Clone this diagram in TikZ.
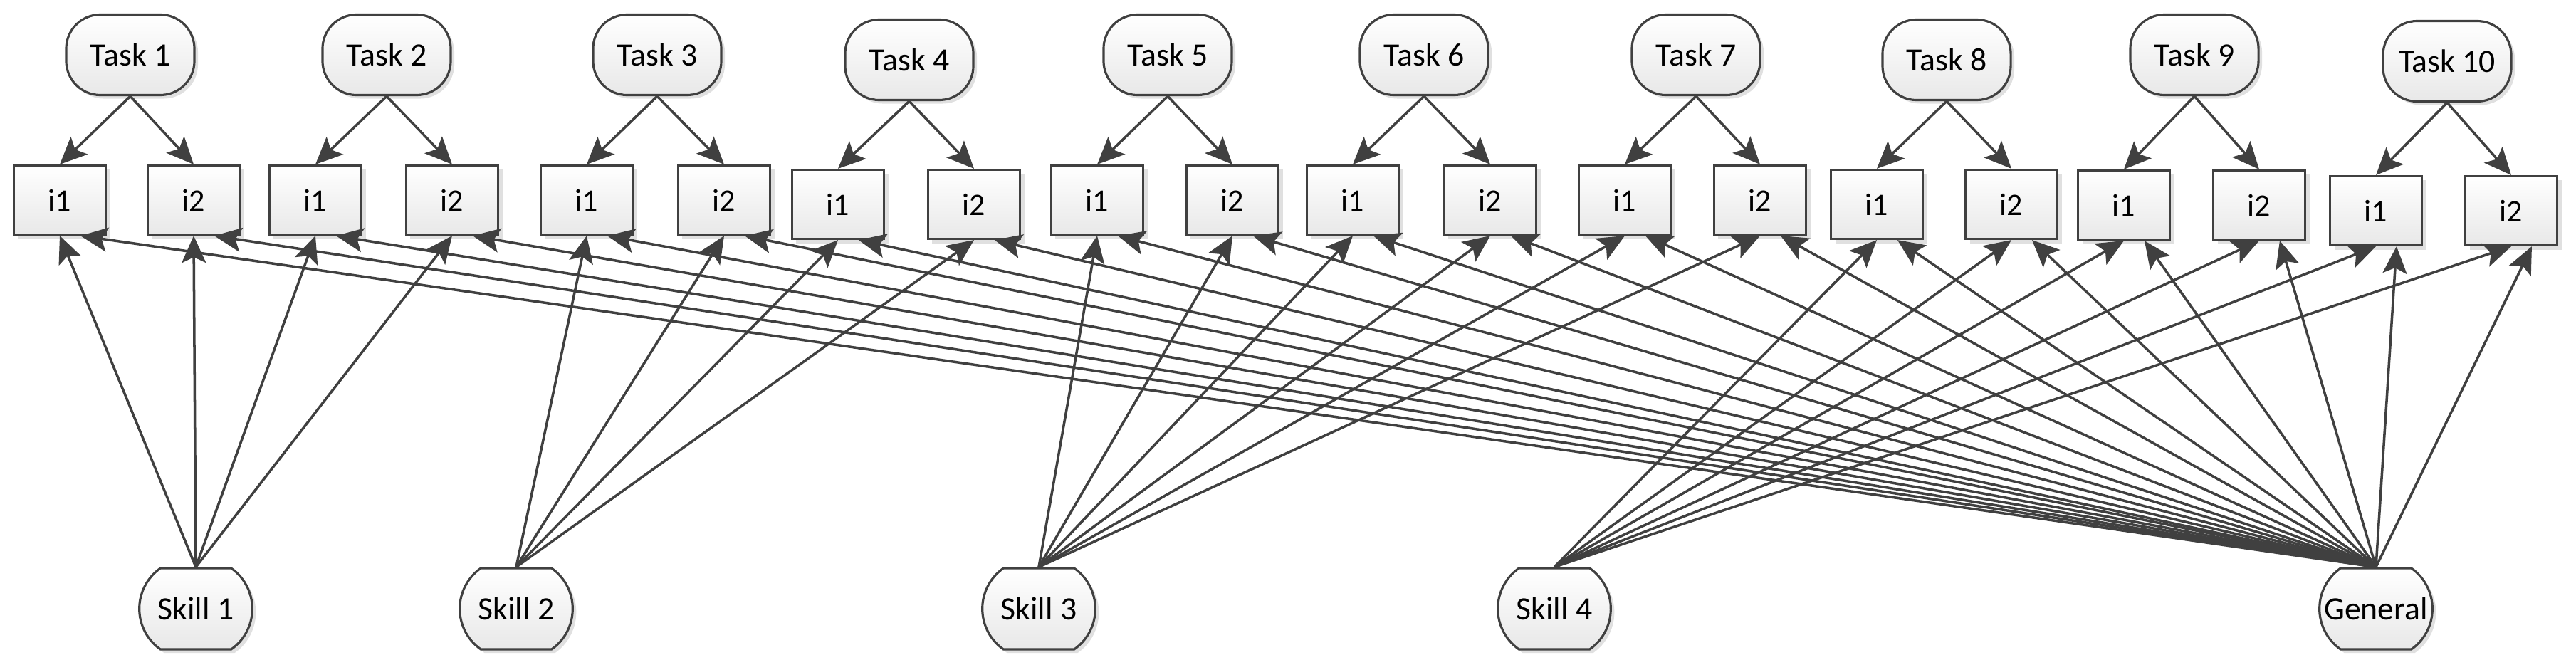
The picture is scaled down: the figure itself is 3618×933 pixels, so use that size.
\documentclass[tikz,border=0pt]{standalone}
\usepackage{fontspec}
\setmainfont{Carlito}
\usepackage{tikz}
\usetikzlibrary{shapes.misc, arrows.meta, shadows}

\definecolor{edgegray}{HTML}{404040}
\tikzstyle{task} = [rectangle, rounded corners=0.48cm, minimum width=1.8cm, minimum height=1.13cm, text centered, draw=edgegray, line width=0.9pt, top color=white, bottom color=black!9, drop shadow={shadow xshift=0.05cm, shadow yshift=-0.05cm, fill=black!30, opacity=0.4}, font=\fontsize{13}{15}\selectfont]
\tikzstyle{itembox} = [rectangle, minimum width=1.29cm, minimum height=0.97cm, text centered, draw=edgegray, line width=0.9pt, top color=white, bottom color=black!9, drop shadow={shadow xshift=0.06cm, shadow yshift=-0.06cm, fill=black!30, opacity=0.4}, font=\fontsize{12.5}{15}\selectfont]
\tikzstyle{skill} = [rounded rectangle, rounded rectangle arc length=110, minimum width=1.82cm, minimum height=1.14cm, text centered, draw=edgegray, line width=0.9pt, top color=white, bottom color=black!9, drop shadow={shadow xshift=0.05cm, shadow yshift=-0.05cm, fill=black!30, opacity=0.4}, font=\fontsize{13}{15}\selectfont]
\tikzstyle{arrow} = [line width=1pt, color=edgegray, -{Stealth[length=0.38cm, width=0.34cm, inset=0.08cm]}]

\begin{document}
\begin{tikzpicture}[x=0.01cm, y=-0.01cm]

  \useasboundingbox (0,0) rectangle (3618,933);

  % tasks
  \node (task1) [task] at (183,77) {Task 1};
  \node (task2) [task] at (543,77) {Task 2};
  \node (task3) [task] at (923,77) {Task 3};
  \node (task4) [task] at (1277,84) {Task 4};
  \node (task5) [task] at (1640,77) {Task 5};
  \node (task6) [task] at (2000,77) {Task 6};
  \node (task7) [task] at (2382,77) {Task 7};
  \node (task8) [task] at (2734,84) {Task 8};
  \node (task9) [task] at (3082,77) {Task 9};
  \node (task10) [task] at (3437,86) {Task 10};

  % items
  \node (t1i1) [itembox] at (84,281) {i1};
  \node (t1i2) [itembox] at (272,281) {i2};
  \node (t2i1) [itembox] at (443,281) {i1};
  \node (t2i2) [itembox] at (635,281) {i2};
  \node (t3i1) [itembox] at (824,281) {i1};
  \node (t3i2) [itembox] at (1017,281) {i2};
  \node (t4i1) [itembox] at (1177,287) {i1};
  \node (t4i2) [itembox] at (1368,287) {i2};
  \node (t5i1) [itembox] at (1541,281) {i1};
  \node (t5i2) [itembox] at (1731,281) {i2};
  \node (t6i1) [itembox] at (1900,281) {i1};
  \node (t6i2) [itembox] at (2093,281) {i2};
  \node (t7i1) [itembox] at (2282,281) {i1};
  \node (t7i2) [itembox] at (2472,281) {i2};
  \node (t8i1) [itembox] at (2636,287) {i1};
  \node (t8i2) [itembox] at (2825,287) {i2};
  \node (t9i1) [itembox] at (2983,288) {i1};
  \node (t9i2) [itembox] at (3173,288) {i2};
  \node (t10i1) [itembox] at (3337,296) {i1};
  \node (t10i2) [itembox] at (3527,296) {i2};

  % skills
  \node (skill1) [skill] at (275,855) {Skill 1};
  \node (skill2) [skill] at (725,855) {Skill 2};
  \node (skill3) [skill] at (1459,855) {Skill 3};
  \node (skill4) [skill] at (2183,855) {Skill 4};
  \node (general) [skill] at (3337,855) {General};

  \path [arrow] (task1.south) edge (t1i1.north) edge (t1i2.north);
  \path [arrow] (task2.south) edge (t2i1.north) edge (t2i2.north);
  \path [arrow] (task3.south) edge (t3i1.north) edge (t3i2.north);
  \path [arrow] (task4.south) edge (t4i1.north) edge (t4i2.north);
  \path [arrow] (task5.south) edge (t5i1.north) edge (t5i2.north);
  \path [arrow] (task6.south) edge (t6i1.north) edge (t6i2.north);
  \path [arrow] (task7.south) edge (t7i1.north) edge (t7i2.north);
  \path [arrow] (task8.south) edge (t8i1.north) edge (t8i2.north);
  \path [arrow] (task9.south) edge (t9i1.north) edge (t9i2.north);
  \path [arrow] (task10.south) edge (t10i1.north) edge (t10i2.north);

  \path [arrow] (skill1.north) edge (t1i1.south) edge (t1i2.south) edge (t2i1.south) edge (t2i2.south);
  \path [arrow] (skill2.north) edge (t3i1.south) edge (t3i2.south) edge (t4i1.south) edge (t4i2.south);
  \path [arrow] (skill3.north) edge (t5i1.south) edge (t5i2.south) edge (t6i1.south) edge (t6i2.south)
    edge (t7i1.south) edge (t7i2.south);
  \path [arrow] (skill4.north) edge (t8i1.south) edge (t8i2.south) edge (t9i1.south) edge (t9i2.south)
    edge (t10i1.south) edge (t10i2.south);

  \path [arrow] (general.north) edge (t1i1.-60) edge (t1i2.-60) edge (t2i1.-60) edge (t2i2.-60)
    edge (t3i1.-60) edge (t3i2.-60) edge (t4i1.-60) edge (t4i2.-60)
    edge (t5i1.-60) edge (t5i2.-60) edge (t6i1.-60) edge (t6i2.-60)
    edge (t7i1.-60) edge (t7i2.-60) edge (t8i1.-60) edge (t8i2.-60)
    edge (t9i1.-60) edge (t9i2.-60) edge (t10i1.-60) edge (t10i2.-60);

\end{tikzpicture}
\end{document}
